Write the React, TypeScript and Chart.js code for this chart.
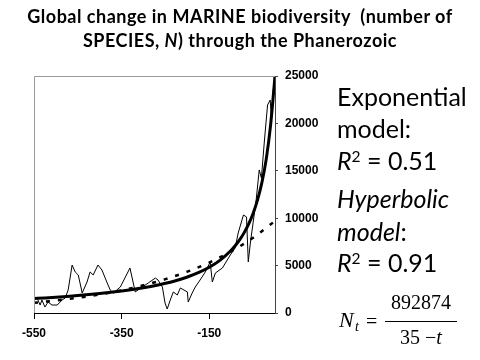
import React, { useEffect, useRef } from "react";
import { Chart, registerables } from "chart.js";

Chart.register(...registerables);

// Observed record: time (Ma, negative = past) and number of marine species
const dataTimes = [-543, -536, -532, -525, -518, -509, -497, -486, -479, -472, -463, -456, -449, -440, -429, -422, -415, -404, -395, -383, -376, -369, -353, -331, -319, -303, -289, -273, -267, -257, -251, -246, -239, -232, -223, -216, -200, -198, -189, -182, -171, -159, -148, -143, -136, -120, -109, -102, -91, -84, -72, -65, -61, -56, -50, -43, -36, -31, -24, -17, -11, -8, -4, 0];
const dataSpecies = [1580, 840, 1370, 630, 1160, 840, 840, 1370, 1580, 2430, 5060, 4330, 4010, 2110, 3270, 4330, 4010, 5060, 4540, 3170, 2430, 2110, 2740, 4750, 2220, 2740, 3170, 3690, 3480, 2740, 1060, 420, 1370, 2220, 1900, 2640, 2220, 1160, 2110, 2740, 3480, 4330, 5380, 3270, 4220, 4750, 5590, 6120, 6860, 8440, 10340, 10130, 5380, 7490, 9500, 11920, 15090, 14240, 18250, 21940, 22470, 20570, 23530, 25000];

// Hyperbolic model curve
const hyperTimes = [-550, -525, -500, -475, -450, -425, -400, -375, -350, -325, -300, -275, -250, -225, -200, -175, -150, -125, -100, -90, -80, -70, -60, -50, -40, -30, -20, -10, -5, 0];
const hyperValues = [1526, 1594, 1669, 1751, 1841, 1941, 2053, 2178, 2319, 2480, 2665, 2880, 3133, 3434, 3800, 4252, 4826, 5581, 6614, 7143, 7764, 8504, 9399, 10504, 11905, 13737, 16234, 19842, 22322, 25000];

// Exponential model curve
const expTimes = [-550, -500, -450, -400, -350, -300, -250, -200, -150, -100, -50, 0];
const expValues = [1075, 1313, 1603, 1958, 2392, 2922, 3568, 4359, 5324, 6502, 7942, 9700];

const xTickValues = [-550, -350, -150];

const pts = (xs: number[], ys: number[]) => xs.map((x, i) => ({ x, y: ys[i] }));

const frame = {
  id: "frame",
  afterDraw(chart: any) {
    const { ctx, chartArea } = chart;
    ctx.save();
    ctx.strokeStyle = "#999";
    ctx.lineWidth = 1;
    ctx.beginPath();
    ctx.moveTo(chartArea.left + 0.5, chartArea.bottom);
    ctx.lineTo(chartArea.left + 0.5, chartArea.top + 0.5);
    ctx.lineTo(chartArea.right, chartArea.top + 0.5);
    ctx.stroke();
    ctx.restore();
  },
};

function App() {
  const ref = useRef<HTMLCanvasElement>(null);
  useEffect(() => {
    if (!ref.current) return;
    const chart = new Chart(ref.current, {
      type: "line",
      data: {
        datasets: [
          {
            data: pts(dataTimes, dataSpecies),
            borderColor: "#000",
            borderWidth: 1,
            pointRadius: 0,
            tension: 0,
          },
          {
            data: pts(hyperTimes, hyperValues),
            borderColor: "#000",
            borderWidth: 3,
            pointRadius: 0,
            cubicInterpolationMode: "monotone",
          },
          {
            data: pts(expTimes, expValues),
            borderColor: "#000",
            borderWidth: 2.5,
            borderDash: [4, 8],
            pointRadius: 0,
            cubicInterpolationMode: "monotone",
          },
        ],
      },
      options: {
        responsive: false,
        animation: false,
        layout: { padding: { left: 34, top: 76, right: 0, bottom: 0 } },
        plugins: { legend: { display: false }, tooltip: { enabled: false }, title: { display: false } },
        scales: {
          x: {
            type: "linear",
            position: "bottom",
            min: -550,
            max: 0,
            afterBuildTicks: (s: any) => {
              s.ticks = xTickValues.map((v) => ({ value: v }));
            },
            afterFit: (s: any) => {
              s.height = 47;
            },
            grid: { drawOnChartArea: false, drawTicks: true, tickLength: 6, color: "#000" },
            border: { display: true, color: "#000", width: 1 },
            ticks: {
              color: "#000",
              font: { family: "Liberation Sans", size: 12, weight: "bold" },
              padding: 7,
              maxRotation: 0,
              callback: (v: any) => String(v),
            },
          },
          y: {
            position: "right",
            min: 0,
            max: 25000,
            afterFit: (s: any) => {
              s.width = 205;
            },
            grid: { drawOnChartArea: false, drawTicks: true, tickLength: 3, color: "#444" },
            border: { display: true, color: "#444", width: 1 },
            ticks: {
              stepSize: 5000,
              color: "#000",
              font: { family: "Liberation Sans", size: 12, weight: "bold" },
              padding: 7,
              callback: (v: any) => String(v),
            },
          },
        },
      },
      plugins: [frame],
    });
    return () => chart.destroy();
  }, []);

  const big: React.CSSProperties = {
    position: "absolute",
    left: 337,
    fontFamily: "Lato",
    fontSize: 25,
    lineHeight: "25px",
    color: "#000",
    whiteSpace: "pre",
  };
  const sup: React.CSSProperties = { fontSize: "0.62em", position: "relative", top: "-0.5em" };
  const serif: React.CSSProperties = {
    position: "absolute",
    fontFamily: "Liberation Serif",
    fontSize: 20,
    lineHeight: "20px",
    color: "#000",
    whiteSpace: "pre",
  };

  return (
    <div style={{ position: "fixed", left: 0, top: 0, width: 480, height: 360, background: "#fff", overflow: "hidden" }}>
      <canvas ref={ref} width={480} height={360} style={{ position: "absolute", left: 0, top: 0, width: 480, height: 360 }} />
      <div
        style={{
          position: "absolute",
          left: 0,
          top: 4,
          width: 480,
          textAlign: "center",
          fontFamily: "Lato",
          fontWeight: 700,
          fontSize: 18,
          letterSpacing: "0.5px",
          lineHeight: "24px",
          color: "#000",
          whiteSpace: "pre",
        }}
      >
        <div>{"Global change in MARINE biodiversity  (number of"}</div>
        <div>
          {"SPECIES, "}
          <i>N</i>
          {") through the Phanerozoic"}
        </div>
      </div>
      <div style={{ ...big, top: 84 }}>Exponential</div>
      <div style={{ ...big, top: 116 }}>model:</div>
      <div style={{ ...big, top: 148 }}>
        <i>R</i>
        <span style={sup}>2</span>
        {" = 0.51"}
      </div>
      <div style={{ ...big, top: 186 }}>
        <i>Hyperbolic</i>
      </div>
      <div style={{ ...big, top: 219 }}>
        <i>model</i>:
      </div>
      <div style={{ ...big, top: 250 }}>
        <i>R</i>
        <span style={sup}>2</span>
        {" = 0.91"}
      </div>
      <div style={{ ...serif, left: 339, top: 309, fontSize: 22, lineHeight: "22px", fontStyle: "italic" }}>N</div>
      <div style={{ ...serif, left: 355, top: 320, fontSize: 14, lineHeight: "14px", fontStyle: "italic" }}>t</div>
      <div style={{ ...serif, left: 366, top: 311 }}>=</div>
      <div style={{ ...serif, left: 385, width: 72, top: 292, textAlign: "center" }}>892874</div>
      <div style={{ position: "absolute", left: 385, top: 321, width: 72, height: 1, background: "#000" }} />
      <div style={{ ...serif, left: 385, width: 72, top: 327, textAlign: "center" }}>
        {"35 \u2212"}
        <i>t</i>
      </div>
    </div>
  );
}

export default App;
